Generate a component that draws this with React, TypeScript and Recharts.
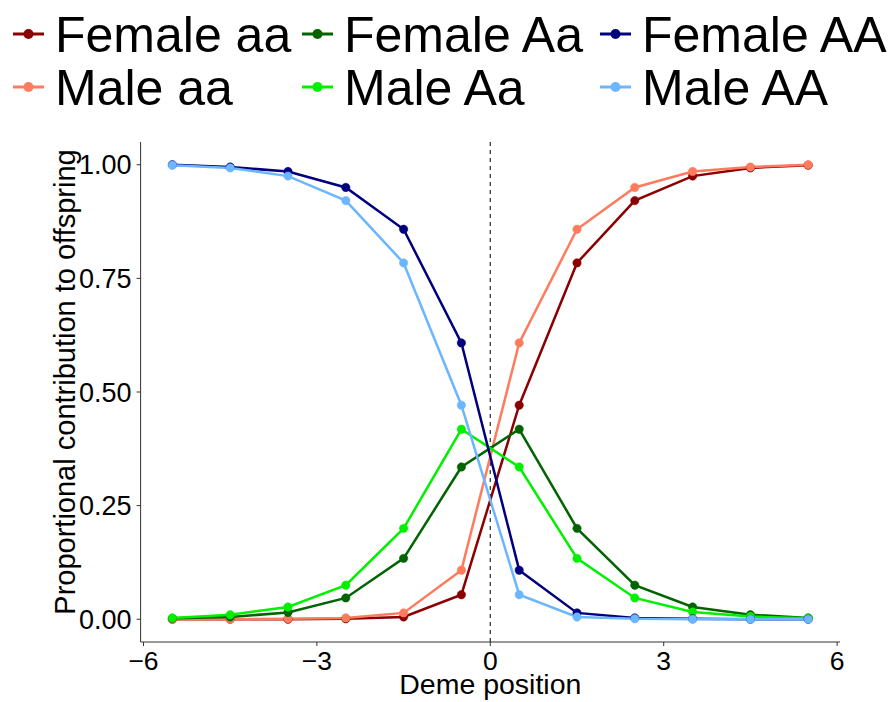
import { LineChart, Line, XAxis, YAxis, ReferenceLine, Label } from "recharts";

const demePosition = [-5.5, -4.5, -3.5, -2.5, -1.5, -0.5, 0.5, 1.5, 2.5, 3.5, 4.5, 5.5];

const femaleaa = [0.0, 0.0, 0.0, 0.001, 0.005, 0.054, 0.471, 0.784, 0.921, 0.975, 0.993, 0.999];
const maleaa = [0.0, 0.0, 0.001, 0.003, 0.014, 0.108, 0.608, 0.858, 0.95, 0.985, 0.995, 1.0];
const femaleAa = [0.002, 0.005, 0.015, 0.047, 0.134, 0.335, 0.418, 0.2, 0.075, 0.027, 0.01, 0.003];
const maleAa = [0.003, 0.01, 0.027, 0.075, 0.2, 0.418, 0.335, 0.134, 0.047, 0.016, 0.006, 0.002];
const femaleAA = [1.0, 0.995, 0.985, 0.95, 0.858, 0.608, 0.108, 0.014, 0.003, 0.001, 0.0, 0.0];
const maleAA = [0.999, 0.993, 0.975, 0.921, 0.784, 0.471, 0.054, 0.005, 0.001, 0.0, 0.0, 0.0];

const xTicks = [-6, -3, 0, 3, 6];
const yTicks = [0, 0.25, 0.5, 0.75, 1];

const series = [
  { key: "femaleaa", name: "Female aa", color: "#8B0000", values: femaleaa },
  { key: "maleaa", name: "Male aa", color: "#FF7B5E", values: maleaa },
  { key: "femaleAa", name: "Female Aa", color: "#006400", values: femaleAa },
  { key: "maleAa", name: "Male Aa", color: "#00F000", values: maleAa },
  { key: "femaleAA", name: "Female AA", color: "#00007F", values: femaleAA },
  { key: "maleAA", name: "Male AA", color: "#6CB6FF", values: maleAA },
];

const data = demePosition.map((x, i) => {
  const row: Record<string, number> = { x };
  series.forEach((s) => {
    row[s.key] = s.values[i];
  });
  return row;
});

const FONT = "'Liberation Sans', Arial, Helvetica, sans-serif";
const legendCols = [13, 302, 600];
const legendRows = [34, 87];

const fmtX = (v: number) => (v < 0 ? "\u2212" + Math.abs(v) : String(v));

function TopLegend() {
  return (
    <svg width={895} height={120} style={{ position: "absolute", left: 0, top: 0 }}>
      {series.map((s, i) => {
        const x = legendCols[Math.floor(i / 2)];
        const y = legendRows[i % 2];
        return (
          <g key={s.key}>
            <line x1={x} x2={x + 31} y1={y} y2={y} stroke={s.color} strokeWidth={3} />
            <circle cx={x + 15.5} cy={y} r={5} fill={s.color} />
            <text x={x + 42} y={y + 18} fontSize={50} fontFamily={FONT} fill="#000">
              {s.name}
            </text>
          </g>
        );
      })}
    </svg>
  );
}

export default function App() {
  return (
    <div style={{ position: "absolute", left: 0, top: 0, width: 895, height: 702, background: "#fff" }}>
      <LineChart
        width={895}
        height={702}
        data={data}
        margin={{ top: 142, right: 55, bottom: 0, left: 0 }}
      >
        <XAxis
          dataKey="x"
          type="number"
          domain={[-6.05, 6.05]}
          ticks={xTicks}
          tickFormatter={fmtX}
          height={60}
          tick={{ fontSize: 26.5, fill: "#000", fontFamily: FONT }}
          tickSize={4}
          tickMargin={5}
          stroke="#333"
          allowDataOverflow
        >
          <Label
            value="Deme position"
            position="insideBottom"
            offset={8}
            style={{ fontSize: 28.5, fill: "#000", fontFamily: FONT }}
          />
        </XAxis>
        <YAxis
          type="number"
          domain={[-0.05, 1.05]}
          ticks={yTicks}
          tickFormatter={(v: number) => v.toFixed(2)}
          width={140.6}
          tick={{ fontSize: 27, fill: "#000", fontFamily: FONT }}
          tickSize={4}
          tickMargin={5}
          stroke="#333"
          allowDataOverflow
        >
          <Label
            value="Proportional contribution to offspring"
            angle={-90}
            position="center"
            dx={-6}
            dy={-10}
            style={{ fontSize: 29, fill: "#000", fontFamily: FONT, textAnchor: "middle" }}
          />
        </YAxis>
        <ReferenceLine x={0} stroke="#444" strokeWidth={1.4} strokeDasharray="4 4" />
        {series.map((s) => (
          <Line
            key={s.key + "-pts"}
            dataKey={s.key}
            stroke="none"
            legendType="none"
            dot={{ r: 4.2, fill: s.color, stroke: s.color, strokeWidth: 0.5 }}
            activeDot={false}
            isAnimationActive={false}
          />
        ))}
        {series.map((s) => (
          <Line
            key={s.key}
            dataKey={s.key}
            name={s.name}
            stroke={s.color}
            strokeWidth={2.5}
            dot={false}
            activeDot={false}
            isAnimationActive={false}
          />
        ))}
      </LineChart>
      <TopLegend />
    </div>
  );
}
